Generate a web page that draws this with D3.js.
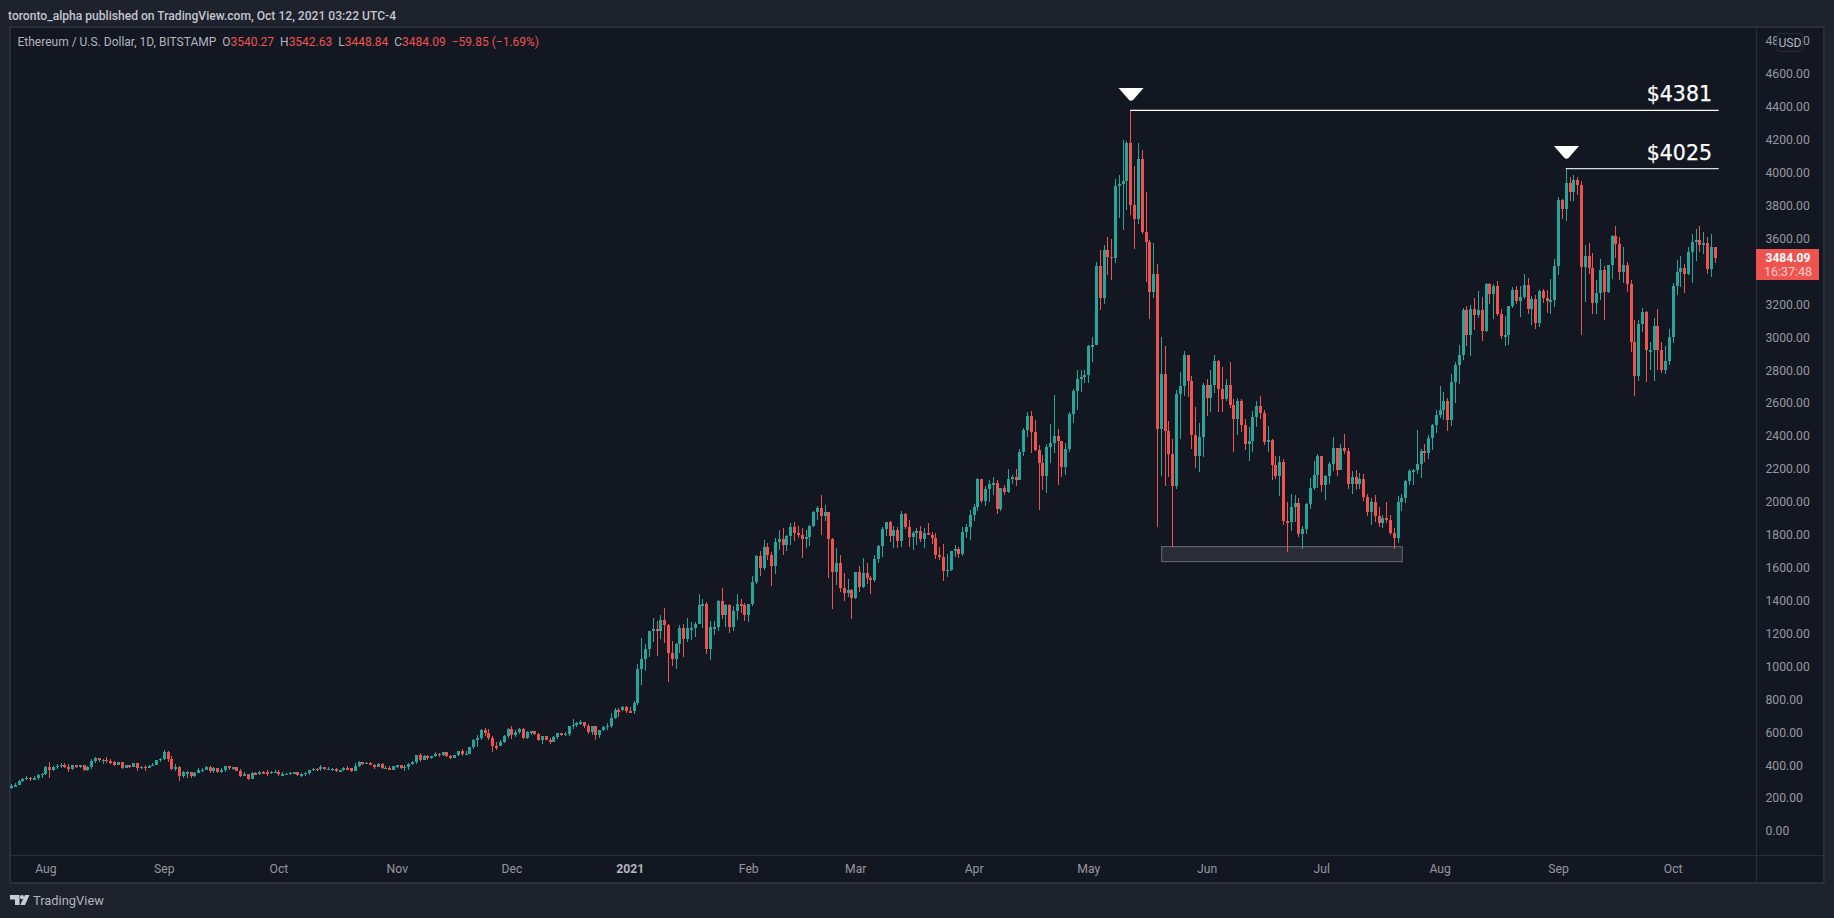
<!DOCTYPE html>
<html>
<head>
<meta charset="utf-8">
<script src="https://cdn.jsdelivr.net/npm/d3@7/dist/d3.min.js"></script>
<style>
html,body{margin:0;padding:0;background:#1e222d;overflow:hidden}
svg{display:block}
text{font-family:"Roboto","Noto Sans",sans-serif}
</style>
</head>
<body>
<svg id="c" width="1834" height="918"></svg>
<script>
const firstOpen = 262;
const firstDay = "2020-07-23";
const closes = [
275,279,305,316,325,315,320,342,348,
391,370,391,395,402,391,375,399,387,399,371,386,425,443,431,433,423,419,399,417,383,399,389,413,385,391,383,397,403,431,438,
482,437,375,391,336,358,358,336,354,370,372,387,364,382,360,372,395,385,388,366,336,346,314,352,351,358,356,351,360,360,
344,346,349,355,357,338,346,354,369,378,376,389,377,378,378,364,369,382,381,363,395,419,405,416,401,389,409,381,384,373,393,
398,381,391,407,421,461,431,456,443,456,468,463,480,456,443,461,486,468,470,510,553,565,614,593,565,516,515,541,577,620,
583,601,620,565,601,607,589,553,577,553,541,571,595,583,591,638,645,657,660,638,601,638,583,613,632,638,686,735,734,753,729,
728,777,984,1045,1106,1215,1227,1215,1282,1251,1081,1045,1136,1233,1166,1233,1233,1258,1373,1379,1106,1239,1239,1397,1312,1373,1239,1337,1379,1373,1312,
1379,1513,1671,1598,1725,1677,1610,1756,1774,1738,1792,1847,1810,1798,1774,1786,1853,1938,1962,1914,1938,1774,1573,1628,1476,1446,1464,1415,
1573,1482,1567,1537,1525,1652,1731,1835,1877,1792,1829,1762,1926,1847,1786,1810,1822,1774,1810,1798,1780,1677,1665,1580,1586,1701,1713,1683,1817,1847,1920,
1968,2139,2005,2078,2108,2114,1956,2084,2060,2139,2151,2132,2303,2436,2521,2424,2315,2236,2157,2333,2357,2400,2369,2211,2321,2533,2673,2745,2756,2773,
2945,2950,3431,3236,3530,3490,3483,3919,3930,3949,4180,3803,3718,4083,3639,3578,3275,3384,2442,2776,2430,2290,2096,2655,2704,2892,2734,2406,2278,2394,2710,
2631,2710,2855,2685,2625,2710,2588,2503,2612,2467,2351,2369,2515,2582,2540,2363,2375,2224,2157,2242,1883,1877,1968,1993,1804,1835,1987,2084,2163,2278,
2102,2157,2230,2327,2193,2327,2309,2108,2151,2108,2138,2029,1938,1999,1914,1871,1902,1889,1810,1780,1999,2023,2126,2187,2193,2230,2309,2297,2388,2467,2527,
2558,2612,2497,2728,2831,2892,3165,3013,3171,3135,3165,3038,3323,3262,3311,3141,3007,3013,3190,3287,3220,3244,3317,3171,3232,3086,3281,3238,3220,3226,3433,
3833,3779,3937,3882,3955,3925,3426,3493,3420,3208,3268,3408,3275,3439,3615,3566,3396,3439,3323,2971,2764,3080,3153,2922,2922,3068,2922,2801,2855,3001,
3311,3396,3420,3384,3518,3578,3590,3560,3572,3414,3548,3484
];
const highs = [
283,292,310,322,333,330,335,346,354,
395,419,397,408,415,411,405,402,400,401,399,395,438,450,444,437,450,435,425,418,418,401,401,415,415,395,402,399,412,433,446,
492,484,455,405,393,365,362,360,360,385,382,392,395,387,385,380,397,397,390,388,375,358,348,358,360,362,365,370,362,368,
372,357,355,358,358,358,350,358,371,382,384,402,391,390,384,382,372,386,392,385,412,424,419,420,419,408,413,412,392,395,397,
402,401,400,413,425,463,474,460,461,458,478,474,482,482,462,462,488,498,488,512,558,585,620,625,620,578,538,552,582,623,
637,612,628,625,605,610,610,595,580,578,565,578,597,597,600,640,680,665,672,660,650,640,640,615,635,655,720,745,745,760,762,
752,790,1015,1173,1136,1215,1294,1276,1312,1355,1257,1154,1142,1251,1257,1294,1270,1270,1440,1410,1391,1276,1276,1403,1476,1379,1379,1367,1440,1409,1385,
1379,1549,1677,1701,1768,1750,1695,1780,1829,1841,1798,1871,1877,1853,1841,1829,1859,1944,1974,2041,1980,1938,1780,1719,1677,1567,1531,1470,
1573,1610,1658,1628,1549,1677,1737,1847,1877,1883,1853,1847,1944,1932,1889,1822,1841,1853,1841,1871,1816,1810,1725,1744,1683,1701,1738,1726,1847,1865,1950,
1987,2145,2139,2096,2132,2151,2132,2084,2102,2199,2163,2199,2321,2448,2546,2552,2497,2345,2284,2351,2473,2649,2442,2369,2357,2546,2685,2800,2800,2800,
2950,3000,3455,3530,3560,3609,3596,3961,3985,4198,4190,4378,4040,4180,4137,3882,3590,3572,3445,3000,2945,2489,2382,2679,2789,2914,2892,2764,2576,2479,2722,
2746,2801,2892,2861,2819,2746,2849,2625,2631,2625,2503,2454,2552,2612,2643,2558,2460,2382,2278,2278,2260,1999,2047,2041,2023,1853,1993,2145,2248,2291,
2278,2163,2242,2394,2327,2351,2412,2327,2187,2193,2175,2169,2047,2023,2041,1968,1920,1999,1920,1841,2035,2047,2132,2199,2199,2436,2321,2351,2406,2473,2558,
2704,2667,2631,2776,2849,2953,3177,3190,3196,3238,3281,3244,3329,3329,3323,3341,3171,3129,3190,3305,3311,3311,3384,3360,3250,3256,3287,3293,3287,3354,3475,
3852,3840,4028,3973,3985,3973,3949,3560,3572,3512,3348,3475,3433,3439,3621,3676,3609,3548,3457,3348,3104,3104,3177,3159,2971,3117,3171,2971,2946,3050,
3329,3469,3493,3445,3548,3627,3657,3676,3639,3609,3627,3543
];
const lows = [
258,265,278,298,310,305,310,312,325,
340,322,365,375,385,385,360,370,380,383,365,365,378,415,420,408,415,405,395,398,378,380,385,387,365,375,365,380,395,401,420,
432,420,371,365,305,320,325,325,330,352,360,370,352,352,355,355,358,370,372,362,330,332,310,315,338,340,345,335,345,350,
335,332,340,342,347,332,330,332,340,362,365,365,368,370,365,358,358,365,375,358,362,391,398,407,398,377,388,376,375,372,375,
380,375,365,373,398,410,420,431,431,438,450,450,458,452,436,442,455,455,462,465,500,510,555,580,555,480,495,515,535,568,
558,572,590,562,562,585,582,548,530,550,530,540,562,575,575,580,620,630,645,628,590,585,550,568,605,615,625,678,695,730,716,
715,713,765,887,972,1060,1148,1063,1166,1142,905,1002,984,1081,1057,1148,1160,1178,1258,1233,1075,1039,1190,1215,1288,1239,1203,1215,1282,1324,1276,
1270,1367,1500,1549,1586,1646,1488,1561,1707,1677,1701,1737,1762,1780,1658,1719,1731,1847,1889,1798,1883,1537,1349,1494,1452,1397,1421,1288,
1409,1452,1476,1500,1440,1513,1628,1665,1792,1756,1719,1719,1725,1835,1725,1707,1737,1756,1719,1798,1744,1652,1646,1519,1543,1580,1665,1659,1671,1780,1768,
1883,1944,1993,1975,2000,2041,1926,1944,2041,2054,2108,2096,2132,2278,2394,2296,2309,1950,2072,2054,2236,2296,2102,2151,2163,2303,2479,2558,2667,2725,
2725,2850,2950,3165,3204,3378,3347,3453,3726,3651,3773,3742,3536,3688,3627,3335,3111,3238,1849,2157,2096,2151,1727,2078,2382,2643,2637,2321,2205,2181,2272,
2521,2546,2661,2546,2546,2612,2570,2303,2406,2424,2315,2248,2303,2454,2503,2345,2303,2132,2140,2035,1859,1695,1823,1877,1786,1713,1804,1956,2072,2084,
2060,2011,2108,2187,2157,2193,2290,2078,2047,2072,2078,2005,1914,1859,1877,1847,1841,1871,1798,1713,1750,1944,1993,2102,2102,2169,2145,2242,2260,2315,2418,
2509,2500,2430,2460,2600,2716,2861,2947,2886,3044,3117,2977,3032,3202,3110,3129,2989,2947,2953,3177,3202,3123,3232,3141,3074,3050,3062,3208,3147,3141,3184,
3378,3718,3706,3827,3827,3864,3013,3214,3384,3141,3141,3226,3104,3268,3354,3481,3348,3329,3275,2910,2643,2734,3032,2728,2801,2734,2801,2783,2777,2831,
2965,3256,3305,3268,3381,3329,3463,3518,3505,3384,3366,3449
];
const monthLabels = ["Aug","Sep","Oct","Nov","Dec","2021","Feb","Mar","Apr","May","Jun","Jul","Aug","Sep","Oct"];
const monthDates = ["2020-08-01","2020-09-01","2020-10-01","2020-11-01","2020-12-01","2021-01-01","2021-02-01","2021-03-01","2021-04-01","2021-05-01","2021-06-01","2021-07-01","2021-08-01","2021-09-01","2021-10-01"];
const priceTicks = [0,200,400,600,800,1000,1200,1400,1600,1800,2000,2200,2400,2600,2800,3000,3200,3400,3600,3800,4000,4200,4400,4600,4800];
const peakDates = ["2021-05-12","2021-09-03"];
const peakPrices = [4378,4025];
const peakLabels = ["$4381","$4025"];
const supportZoneDates = ["2021-05-20","2021-07-22"];
const supportZonePrices = [1731,1640];
const legendParts = [["Ethereum / U.S. Dollar, 1D, BITSTAMP","#b2b5be"],["  O","#b2b5be"],["3540.27","#ef5350"],["  H","#b2b5be"],["3542.63","#ef5350"],["  L","#b2b5be"],["3448.84","#ef5350"],["  C","#b2b5be"],["3484.09","#ef5350"],["  −59.85 (−1.69%)","#ef5350"]];

const UP="#26a69a",DOWN="#ef5350",GREY="#9598a1";
const parse=d3.utcParse("%Y-%m-%d");
const day0=parse(firstDay);
const candles=closes.map((c,i)=>({date:d3.utcDay.offset(day0,i),o:i?closes[i-1]:firstOpen,c,h:highs[i],l:lows[i]}));
const x=d3.scaleUtc().domain([day0,candles[candles.length-1].date]).range([11,1714.7]);
const y=d3.scaleLinear().domain([0,4800]).range([831,41]);
const svg=d3.select("#c");

// panel
svg.append("rect").attr("x",10).attr("y",27).attr("width",1813.5).attr("height",855.5).attr("fill","#131722").attr("stroke","#2a2e39").attr("stroke-width",2).attr("shape-rendering","crispEdges");
svg.append("line").attr("x1",10).attr("x2",1823).attr("y1",855.5).attr("y2",855.5).attr("stroke","#2a2e39").attr("stroke-width",1.5).attr("shape-rendering","crispEdges");
svg.append("line").attr("x1",1756.5).attr("x2",1756.5).attr("y1",28).attr("y2",882).attr("stroke","#2a2e39").attr("stroke-width",1.5).attr("shape-rendering","crispEdges");

// support zone
svg.append("rect")
 .attr("transform","translate(0.8,0.5)")
 .attr("x",x(parse(supportZoneDates[0]))).attr("width",x(parse(supportZoneDates[1]))-x(parse(supportZoneDates[0])))
 .attr("y",y(supportZonePrices[0])).attr("height",y(supportZonePrices[1])-y(supportZonePrices[0]))
 .attr("fill","#2a2d38").attr("stroke","#5d606b").attr("stroke-width",1.2);

// candles
const g=svg.append("g").attr("shape-rendering","crispEdges");
const cg=g.selectAll("g").data(candles).join("g");
const cx=d=>Math.round(x(d.date));
cg.append("rect").attr("x",d=>cx(d)).attr("width",1)
 .attr("y",d=>y(d.h)).attr("height",d=>Math.max(1,y(d.l)-y(d.h)))
 .attr("fill",d=>d.c>=d.o?UP:DOWN);
cg.append("rect").attr("x",d=>cx(d)-1).attr("width",3)
 .attr("y",d=>y(Math.max(d.o,d.c))).attr("height",d=>Math.max(1.5,Math.abs(y(d.o)-y(d.c))))
 .attr("fill",d=>d.c>=d.o?UP:DOWN);

// peak annotations
const lineEnd=1718.7;
peakDates.forEach((ds,i)=>{
 const px=x(parse(ds)), py=y(peakPrices[i]);
 svg.append("line").attr("x1",px).attr("x2",lineEnd).attr("y1",py).attr("y2",py).attr("stroke",i?"#d8d8dc":"#ffffff").attr("stroke-width",1.2);
 svg.append("path").attr("d",`M${px-11.7} ${py-22.5}h25l-10.5 12q-2 1.5 -4 0z`).attr("fill","#ffffff");
 svg.append("text").attr("x",1712).attr("y",py-9).attr("text-anchor","end").attr("fill","#ffffff")
  .style("font-family","'DejaVu Sans'").style("font-size","20.5px").style("stroke","#ffffff").style("stroke-width","0.25px").text(peakLabels[i]);
});

// axes
const yAxis=d3.axisRight(y).tickValues(priceTicks).tickSize(0).tickPadding(9.5).tickFormat(d3.format(".2f"));
const ya=svg.append("g").attr("transform","translate(1756,0)").call(yAxis);
ya.select(".domain").remove();
ya.selectAll("text").style("font-family","Roboto").style("font-size","12.2px").attr("fill",GREY);

const tickDates=monthDates.map(parse);
const xAxis=d3.axisBottom(x).tickValues(tickDates).tickSize(0).tickPadding(0).tickFormat((d,i)=>monthLabels[i]);
const xa=svg.append("g").attr("transform","translate(0,864.5)").call(xAxis);
xa.select(".domain").remove();
xa.selectAll("text").style("font-family","Roboto").style("font-size","12.2px").attr("fill",GREY)
 .style("font-weight",(d,i)=>monthLabels[i]==="2021"?"700":"400").style("fill",(d,i)=>monthLabels[i]==="2021"?"#b2b5be":GREY);

// USD box
svg.append("rect").attr("x",1777).attr("y",33.5).attr("width",26).attr("height",18).attr("rx",4).attr("fill","#131722").attr("stroke","#2a2e39");
svg.append("text").attr("x",1790).attr("y",47).attr("text-anchor","middle").attr("fill","#b2b5be").style("font-size","12.2px").text("USD");

// last price tag
svg.append("rect").attr("x",1756).attr("y",249).attr("width",63).attr("height",31).attr("fill","#ef5350");
svg.append("text").attr("x",1788).attr("y",262).attr("text-anchor","middle").attr("fill","#ffffff").style("font-size","12px").style("font-weight","700").text("3484.09");
svg.append("text").attr("x",1788).attr("y",276).attr("text-anchor","middle").attr("fill","#ffd0cf").style("font-size","12.5px").text("16:37:48");

// header
svg.append("text").attr("x",8).attr("y",19.5).attr("fill","#c3c6ce").style("font-size","12.1px").style("font-weight","500").text("toronto_alpha published on TradingView.com, Oct 12, 2021 03:22 UTC-4");
const leg=svg.append("text").attr("x",17.5).attr("y",46).style("font-size","12px").attr("xml:space","preserve").style("white-space","pre");
legendParts.forEach(p=>leg.append("tspan").attr("fill",p[1]).text(p[0]));

// footer logo
const lg=svg.append("g").attr("fill","#c8cbd3");
lg.append("path").attr("d","M10 895h9.5v10h-4.5v-5.5h-5z");
lg.append("circle").attr("cx",22).attr("cy",897.2).attr("r",2.1);
lg.append("path").attr("d","M25 895h4.5l-4.5 10h-4.8z");
svg.append("text").attr("x",33).attr("y",905).attr("fill","#b2b5be").style("font-size","12.9px").text("TradingView");
</script>
</body>
</html>
